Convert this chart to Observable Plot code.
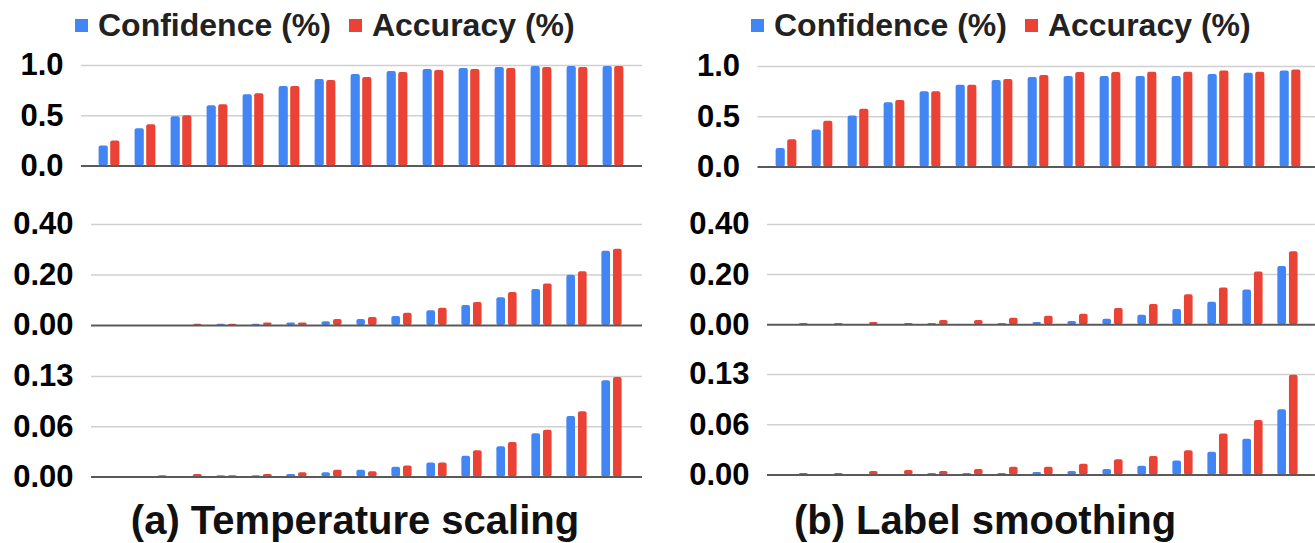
<!DOCTYPE html>
<html><head><meta charset="utf-8">
<script src="https://cdn.jsdelivr.net/npm/d3@7"></script>
<script src="https://cdn.jsdelivr.net/npm/@observablehq/plot@0.6"></script>
<style>
body{margin:0;background:#fff;font-family:"Liberation Sans",Arial,sans-serif;}
#root{position:relative;width:1315px;height:543px;overflow:hidden;background:#fff;}
.legend{position:absolute;top:7px;height:37px;line-height:37px;display:flex;align-items:center;font-size:32px;font-weight:bold;color:#222;white-space:nowrap;}
.item{display:flex;align-items:center;}
.sw{width:13px;height:13px;margin-right:10px;display:inline-block;}
.caption{position:absolute;top:500px;line-height:40px;font-size:40px;font-weight:bold;color:#111;white-space:nowrap;transform:translateX(-50%);}
.chart{position:absolute;}
</style>
</head><body>
<div id="root"></div>
<script>
// ---------- data ----------
const bins = ["1","2","3","4","5","6","7","8","9","10","11","12","13","14","15"];
const seriesNames = ["Confidence (%)", "Accuracy (%)"];
const seriesColors = ["#4285F4", "#EA4335"];
const captions = ["(a) Temperature scaling", "(b) Label smoothing"];

// (a) Temperature scaling
const tsConfTop = [0.20,0.37,0.49,0.60,0.71,0.79,0.86,0.91,0.94,0.96,0.97,0.98,0.99,0.99,0.99];
const tsAccTop  = [0.25,0.41,0.50,0.61,0.72,0.79,0.85,0.88,0.93,0.95,0.96,0.97,0.98,0.98,0.99];
const tsConfMid = [0,0,0,0.005,0.005,0.01,0.015,0.024,0.036,0.058,0.079,0.11,0.143,0.199,0.294];
const tsAccMid  = [0,0,0.005,0.005,0.01,0.01,0.024,0.032,0.049,0.068,0.091,0.131,0.164,0.213,0.302];
const tsConfBot = [0,0,0,0.0017,0.0017,0.003,0.0054,0.0083,0.012,0.0174,0.0257,0.0377,0.0538,0.0753,0.1196];
const tsAccBot  = [0,0.0017,0.003,0.0017,0.003,0.0054,0.0083,0.0066,0.0137,0.0174,0.0327,0.043,0.058,0.0811,0.1238];

// (b) Label smoothing
const lsConfTop = [0.184,0.368,0.508,0.639,0.749,0.813,0.86,0.89,0.90,0.90,0.90,0.90,0.92,0.934,0.954];
const lsAccTop  = [0.271,0.455,0.575,0.662,0.749,0.813,0.87,0.91,0.94,0.94,0.944,0.944,0.954,0.944,0.964];
const lsConfMid = [0,0,0,0,0.005,0,0.005,0.009,0.013,0.022,0.038,0.061,0.09,0.138,0.232];
const lsAccMid  = [0.005,0.005,0.009,0.005,0.017,0.017,0.026,0.034,0.042,0.065,0.081,0.12,0.146,0.21,0.291];
const lsConfBot = [0,0,0,0,0.0017,0.0017,0.0017,0.0029,0.0042,0.0066,0.0108,0.0174,0.0282,0.0444,0.081];
const lsAccBot  = [0.0017,0.0017,0.0042,0.0054,0.0042,0.0066,0.0096,0.0096,0.0133,0.019,0.0228,0.03,0.051,0.0677,0.124];

// tick values and labels
const ticksTop = [0, 0.5, 1.0];       const labelsTop = ["0.0","0.5","1.0"];
const ticksMid = [0, 0.2, 0.4];       const labelsMid = ["0.00","0.20","0.40"];
const ticksBot = [0, 0.0625, 0.125];  const labelsBot = ["0.00","0.06","0.13"];

// ---------- layout ----------
const root = document.getElementById("root");
const barW = 9.6, gap = 2;

function chart(L, conf, acc, ticks, labels) {
  const mT = 22, mB = 8;
  const plotH = L.base - L.gridTop;
  const height = mT + plotH + mB;
  const step = (L.width - L.mL - L.mR - L.inL - L.inR) / bins.length;
  const half = step / 2;
  const rows = bins.map((b, i) => ({bin: b, conf: conf[i], acc: acc[i]}));
  const svg = Plot.plot({
    width: L.width, height,
    marginLeft: L.mL, marginRight: L.mR, marginTop: mT, marginBottom: mB,
    x: {domain: bins, padding: 0, insetLeft: L.inL, insetRight: L.inR, axis: null},
    y: {domain: [0, ticks[ticks.length - 1]], axis: null},
    style: {fontFamily: '"Liberation Sans", Arial, sans-serif', fontSize: "31px", fontWeight: "bold", color: "#000", background: "transparent", overflow: "visible"},
    marks: [
      Plot.ruleY(ticks.slice(1), {stroke: "#d0d0d0", strokeWidth: 1.5}),
      Plot.barY(rows, {x: "bin", y: "conf", fill: seriesColors[0], insetLeft: half - gap / 2 - barW, insetRight: half + gap / 2, rx: 2}),
      Plot.barY(rows, {x: "bin", y: "acc", fill: seriesColors[1], insetLeft: half + gap / 2, insetRight: half - gap / 2 - barW, rx: 2}),
      Plot.ruleY([0], {stroke: "#5a5a5a", strokeWidth: 2}),
      Plot.axisY(ticks, {tickSize: 0, tickPadding: 18, tickFormat: d => labels[ticks.indexOf(d)], fontSize: 31, fontWeight: "bold", fill: "#000", label: null})
    ]
  });
  const wrap = document.createElement("div");
  wrap.className = "chart";
  wrap.style.left = L.left + "px";
  wrap.style.top = (L.gridTop - mT) + "px";
  wrap.appendChild(svg);
  root.appendChild(wrap);
}

const layouts = {
  aTop: {left: 0,   width: 660, gridTop: 64.5,  base: 165,   mL: 81,    mR: 18, inL: 7.3, inR: 7.7},
  aMid: {left: 0,   width: 660, gridTop: 224,   base: 325,   mL: 91,    mR: 18, inL: 5.6, inR: 6},
  aBot: {left: 0,   width: 660, gridTop: 376,   base: 476.5, mL: 91,    mR: 18, inL: 5.6, inR: 6},
  bTop: {left: 655, width: 660, gridTop: 65.5,  base: 166,   mL: 102.5, mR: 0,  inL: 7,   inR: 3.6},
  bMid: {left: 655, width: 660, gridTop: 223.5, base: 323.7, mL: 112,   mR: 0,  inL: 6,   inR: 2.6},
  bBot: {left: 655, width: 660, gridTop: 374.3, base: 474.7, mL: 112,   mR: 0,  inL: 6,   inR: 2.6}
};

chart(layouts.aTop, tsConfTop, tsAccTop, ticksTop, labelsTop);
chart(layouts.aMid, tsConfMid, tsAccMid, ticksMid, labelsMid);
chart(layouts.aBot, tsConfBot, tsAccBot, ticksBot, labelsBot);
chart(layouts.bTop, lsConfTop, lsAccTop, ticksTop, labelsTop);
chart(layouts.bMid, lsConfMid, lsAccMid, ticksMid, labelsMid);
chart(layouts.bBot, lsConfBot, lsAccBot, ticksBot, labelsBot);

// legends
[75, 751].forEach(x => {
  const lg = document.createElement("div");
  lg.className = "legend";
  lg.style.left = x + "px";
  seriesNames.forEach((name, i) => {
    const it = document.createElement("span");
    it.className = "item";
    if (i > 0) it.style.marginLeft = "18px";
    const sw = document.createElement("span");
    sw.className = "sw";
    sw.style.background = seriesColors[i];
    it.appendChild(sw);
    it.appendChild(document.createTextNode(name));
    lg.appendChild(it);
  });
  root.appendChild(lg);
});

// captions
[355, 985].forEach((cx, i) => {
  const c = document.createElement("div");
  c.className = "caption";
  c.style.left = cx + "px";
  c.textContent = captions[i];
  root.appendChild(c);
});
</script>
</body></html>
